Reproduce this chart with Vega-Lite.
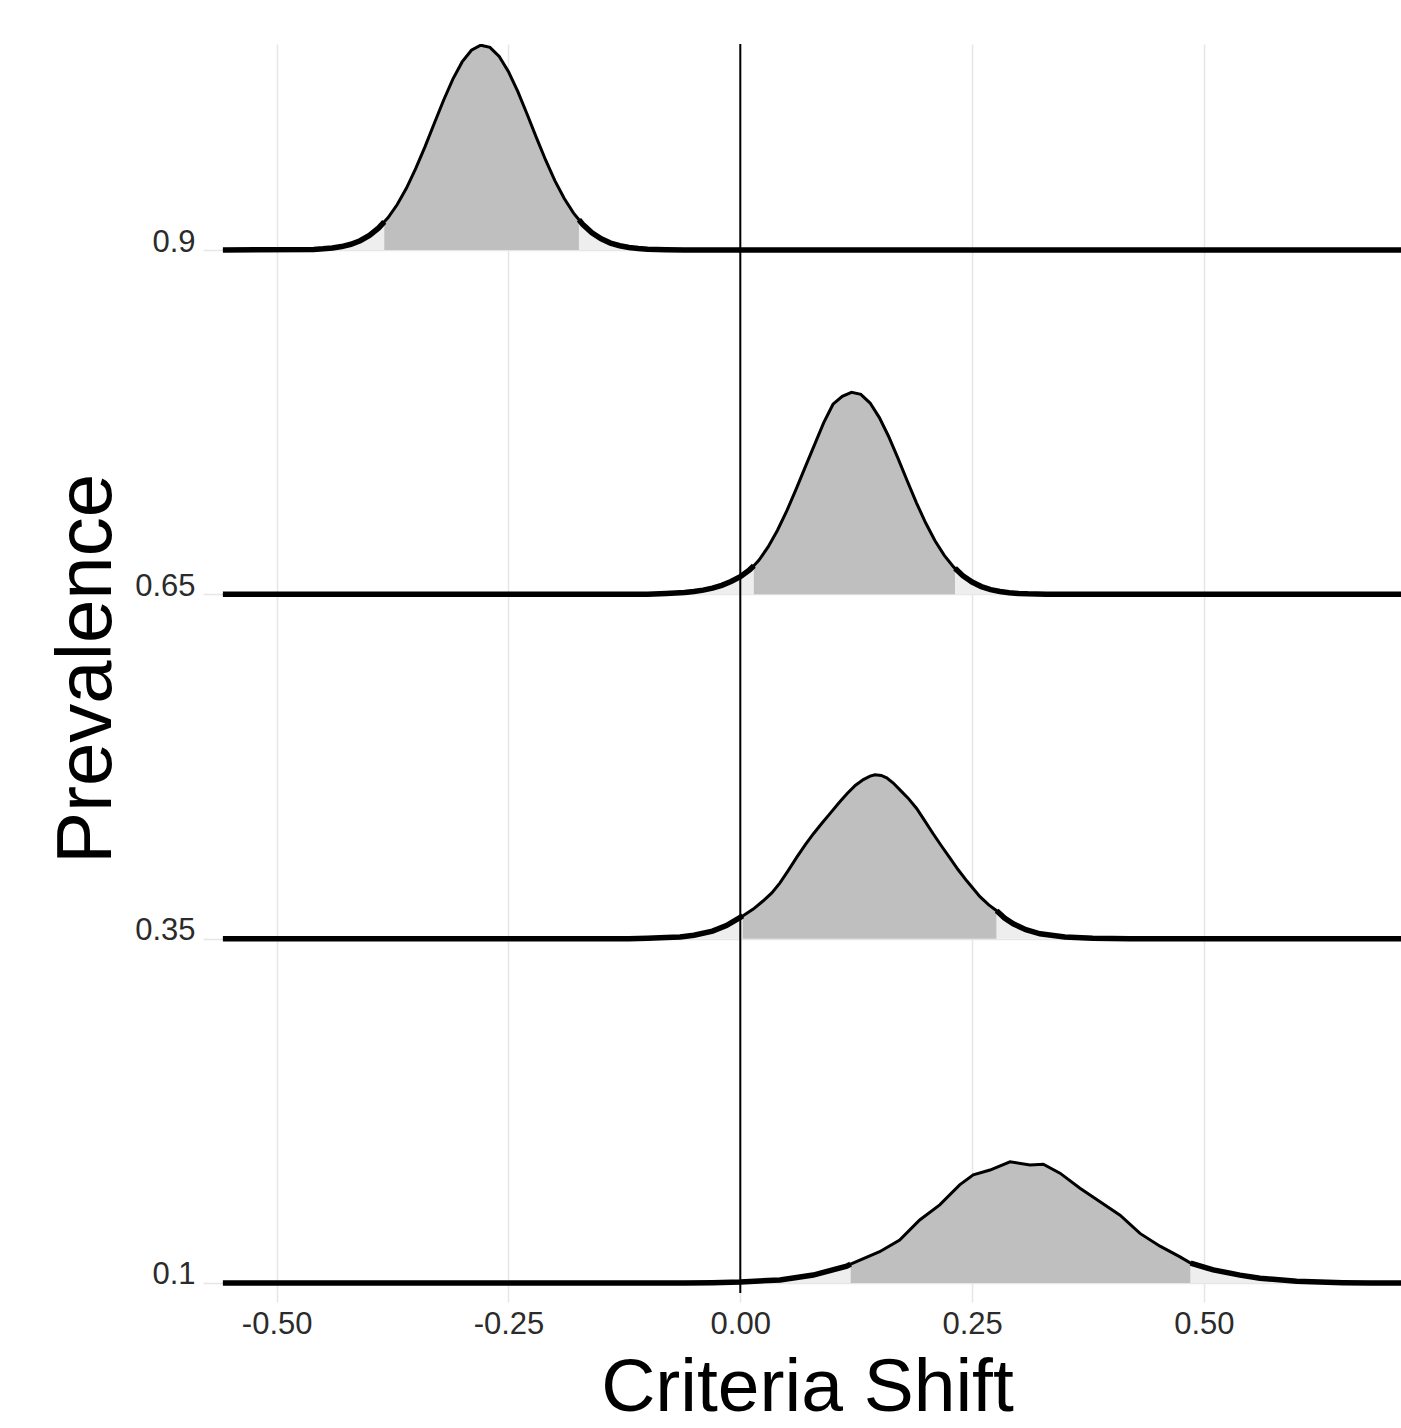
{
  "$schema": "https://vega.github.io/schema/vega-lite/v6.json",
  "width": 1188,
  "height": 1249,
  "autosize": {"type": "none"},
  "padding": {"left": 213, "top": 44, "right": 0, "bottom": 135},
  "background": "white",
  "config": {
    "view": {"stroke": null},
    "font": "Liberation Sans"
  },
  "data": {"values": [
    {"p":"0.9","x":-0.558,"d":0,"s":"lo"},
    {"p":"0.9","x":-0.46,"d":0.0016,"s":"lo"},
    {"p":"0.9","x":-0.45,"d":0.0031,"s":"lo"},
    {"p":"0.9","x":-0.44,"d":0.0056,"s":"lo"},
    {"p":"0.9","x":-0.43,"d":0.0097,"s":"lo"},
    {"p":"0.9","x":-0.42,"d":0.0164,"s":"lo"},
    {"p":"0.9","x":-0.41,"d":0.0267,"s":"lo"},
    {"p":"0.9","x":-0.40,"d":0.0421,"s":"lo"},
    {"p":"0.9","x":-0.39,"d":0.0638,"s":"lo"},
    {"p":"0.9","x":-0.384,"d":0.0816,"s":"lo"},
    {"p":"0.9","x":-0.384,"d":0.0816,"s":"mid"},
    {"p":"0.9","x":-0.38,"d":0.0934,"s":"mid"},
    {"p":"0.9","x":-0.37,"d":0.1318,"s":"mid"},
    {"p":"0.9","x":-0.36,"d":0.1797,"s":"mid"},
    {"p":"0.9","x":-0.35,"d":0.2366,"s":"mid"},
    {"p":"0.9","x":-0.34,"d":0.300,"s":"mid"},
    {"p":"0.9","x":-0.33,"d":0.3677,"s":"mid"},
    {"p":"0.9","x":-0.32,"d":0.4347,"s":"mid"},
    {"p":"0.9","x":-0.31,"d":0.4959,"s":"mid"},
    {"p":"0.9","x":-0.30,"d":0.5459,"s":"mid"},
    {"p":"0.9","x":-0.29,"d":0.580,"s":"mid"},
    {"p":"0.9","x":-0.28,"d":0.5946,"s":"mid"},
    {"p":"0.9","x":-0.27,"d":0.5883,"s":"mid"},
    {"p":"0.9","x":-0.26,"d":0.5617,"s":"mid"},
    {"p":"0.9","x":-0.25,"d":0.5175,"s":"mid"},
    {"p":"0.9","x":-0.24,"d":0.4602,"s":"mid"},
    {"p":"0.9","x":-0.23,"d":0.3948,"s":"mid"},
    {"p":"0.9","x":-0.22,"d":0.327,"s":"mid"},
    {"p":"0.9","x":-0.21,"d":0.2612,"s":"mid"},
    {"p":"0.9","x":-0.20,"d":0.2014,"s":"mid"},
    {"p":"0.9","x":-0.19,"d":0.150,"s":"mid"},
    {"p":"0.9","x":-0.18,"d":0.1077,"s":"mid"},
    {"p":"0.9","x":-0.174,"d":0.0878,"s":"mid"},
    {"p":"0.9","x":-0.174,"d":0.0878,"s":"hi"},
    {"p":"0.9","x":-0.17,"d":0.0746,"s":"hi"},
    {"p":"0.9","x":-0.16,"d":0.0499,"s":"hi"},
    {"p":"0.9","x":-0.15,"d":0.0322,"s":"hi"},
    {"p":"0.9","x":-0.14,"d":0.0200,"s":"hi"},
    {"p":"0.9","x":-0.13,"d":0.0121,"s":"hi"},
    {"p":"0.9","x":-0.12,"d":0.0070,"s":"hi"},
    {"p":"0.9","x":-0.11,"d":0.0039,"s":"hi"},
    {"p":"0.9","x":-0.10,"d":0.0021,"s":"hi"},
    {"p":"0.9","x":-0.09,"d":0.001,"s":"hi"},
    {"p":"0.9","x":-0.08,"d":0.0004,"s":"hi"},
    {"p":"0.9","x":-0.06,"d":0,"s":"hi"},
    {"p":"0.9","x":0.713,"d":0,"s":"hi"},

    {"p":"0.65","x":-0.558,"d":0,"s":"lo"},
    {"p":"0.65","x":-0.10,"d":0,"s":"lo"},
    {"p":"0.65","x":-0.08,"d":0.002,"s":"lo"},
    {"p":"0.65","x":-0.06,"d":0.005,"s":"lo"},
    {"p":"0.65","x":-0.05,"d":0.008,"s":"lo"},
    {"p":"0.65","x":-0.04,"d":0.012,"s":"lo"},
    {"p":"0.65","x":-0.03,"d":0.018,"s":"lo"},
    {"p":"0.65","x":-0.02,"d":0.026,"s":"lo"},
    {"p":"0.65","x":-0.01,"d":0.037,"s":"lo"},
    {"p":"0.65","x":0.00,"d":0.051,"s":"lo"},
    {"p":"0.65","x":0.01,"d":0.071,"s":"lo"},
    {"p":"0.65","x":0.0146,"d":0.083,"s":"lo"},
    {"p":"0.65","x":0.0146,"d":0.083,"s":"mid"},
    {"p":"0.65","x":0.02,"d":0.0986,"s":"mid"},
    {"p":"0.65","x":0.03,"d":0.1375,"s":"mid"},
    {"p":"0.65","x":0.04,"d":0.1853,"s":"mid"},
    {"p":"0.65","x":0.05,"d":0.2413,"s":"mid"},
    {"p":"0.65","x":0.06,"d":0.3037,"s":"mid"},
    {"p":"0.65","x":0.07,"d":0.3692,"s":"mid"},
    {"p":"0.65","x":0.08,"d":0.4338,"s":"mid"},
    {"p":"0.65","x":0.09,"d":0.4985,"s":"mid"},
    {"p":"0.65","x":0.10,"d":0.552,"s":"mid"},
    {"p":"0.65","x":0.11,"d":0.575,"s":"mid"},
    {"p":"0.65","x":0.12,"d":0.5866,"s":"mid"},
    {"p":"0.65","x":0.13,"d":0.5806,"s":"mid"},
    {"p":"0.65","x":0.14,"d":0.5553,"s":"mid"},
    {"p":"0.65","x":0.15,"d":0.5131,"s":"mid"},
    {"p":"0.65","x":0.16,"d":0.4583,"s":"mid"},
    {"p":"0.65","x":0.17,"d":0.3955,"s":"mid"},
    {"p":"0.65","x":0.18,"d":0.3297,"s":"mid"},
    {"p":"0.65","x":0.19,"d":0.2656,"s":"mid"},
    {"p":"0.65","x":0.20,"d":0.2069,"s":"mid"},
    {"p":"0.65","x":0.21,"d":0.1556,"s":"mid"},
    {"p":"0.65","x":0.22,"d":0.1131,"s":"mid"},
    {"p":"0.65","x":0.23,"d":0.0794,"s":"mid"},
    {"p":"0.65","x":0.2316,"d":0.0753,"s":"mid"},
    {"p":"0.65","x":0.2316,"d":0.0753,"s":"hi"},
    {"p":"0.65","x":0.24,"d":0.0540,"s":"hi"},
    {"p":"0.65","x":0.25,"d":0.0354,"s":"hi"},
    {"p":"0.65","x":0.26,"d":0.0224,"s":"hi"},
    {"p":"0.65","x":0.27,"d":0.0137,"s":"hi"},
    {"p":"0.65","x":0.28,"d":0.0081,"s":"hi"},
    {"p":"0.65","x":0.29,"d":0.0046,"s":"hi"},
    {"p":"0.65","x":0.30,"d":0.0025,"s":"hi"},
    {"p":"0.65","x":0.31,"d":0.0013,"s":"hi"},
    {"p":"0.65","x":0.33,"d":0.0003,"s":"hi"},
    {"p":"0.65","x":0.35,"d":0,"s":"hi"},
    {"p":"0.65","x":0.713,"d":0,"s":"hi"},

    {"p":"0.35","x":-0.558,"d":0,"s":"lo"},
    {"p":"0.35","x":-0.12,"d":0,"s":"lo"},
    {"p":"0.35","x":-0.10,"d":0.001,"s":"lo"},
    {"p":"0.35","x":-0.08,"d":0.003,"s":"lo"},
    {"p":"0.35","x":-0.065,"d":0.005,"s":"lo"},
    {"p":"0.35","x":-0.05,"d":0.010,"s":"lo"},
    {"p":"0.35","x":-0.03,"d":0.022,"s":"lo"},
    {"p":"0.35","x":-0.015,"d":0.038,"s":"lo"},
    {"p":"0.35","x":0.0,"d":0.062,"s":"lo"},
    {"p":"0.35","x":0.0026,"d":0.066,"s":"lo"},
    {"p":"0.35","x":0.0026,"d":0.066,"s":"mid"},
    {"p":"0.35","x":0.014,"d":0.086,"s":"mid"},
    {"p":"0.35","x":0.0248,"d":0.110,"s":"mid"},
    {"p":"0.35","x":0.034,"d":0.133,"s":"mid"},
    {"p":"0.35","x":0.0428,"d":0.162,"s":"mid"},
    {"p":"0.35","x":0.052,"d":0.199,"s":"mid"},
    {"p":"0.35","x":0.0608,"d":0.236,"s":"mid"},
    {"p":"0.35","x":0.0700,"d":0.272,"s":"mid"},
    {"p":"0.35","x":0.0787,"d":0.304,"s":"mid"},
    {"p":"0.35","x":0.0880,"d":0.335,"s":"mid"},
    {"p":"0.35","x":0.0967,"d":0.363,"s":"mid"},
    {"p":"0.35","x":0.1060,"d":0.393,"s":"mid"},
    {"p":"0.35","x":0.1148,"d":0.420,"s":"mid"},
    {"p":"0.35","x":0.1240,"d":0.445,"s":"mid"},
    {"p":"0.35","x":0.1327,"d":0.462,"s":"mid"},
    {"p":"0.35","x":0.1400,"d":0.472,"s":"mid"},
    {"p":"0.35","x":0.1453,"d":0.476,"s":"mid"},
    {"p":"0.35","x":0.1520,"d":0.474,"s":"mid"},
    {"p":"0.35","x":0.1579,"d":0.467,"s":"mid"},
    {"p":"0.35","x":0.1650,"d":0.452,"s":"mid"},
    {"p":"0.35","x":0.1722,"d":0.432,"s":"mid"},
    {"p":"0.35","x":0.1810,"d":0.408,"s":"mid"},
    {"p":"0.35","x":0.1902,"d":0.378,"s":"mid"},
    {"p":"0.35","x":0.1990,"d":0.342,"s":"mid"},
    {"p":"0.35","x":0.2082,"d":0.304,"s":"mid"},
    {"p":"0.35","x":0.2170,"d":0.269,"s":"mid"},
    {"p":"0.35","x":0.2262,"d":0.234,"s":"mid"},
    {"p":"0.35","x":0.2350,"d":0.200,"s":"mid"},
    {"p":"0.35","x":0.2442,"d":0.168,"s":"mid"},
    {"p":"0.35","x":0.2585,"d":0.122,"s":"mid"},
    {"p":"0.35","x":0.2680,"d":0.098,"s":"mid"},
    {"p":"0.35","x":0.2765,"d":0.081,"s":"mid"},
    {"p":"0.35","x":0.2765,"d":0.081,"s":"hi"},
    {"p":"0.35","x":0.2850,"d":0.060,"s":"hi"},
    {"p":"0.35","x":0.2944,"d":0.043,"s":"hi"},
    {"p":"0.35","x":0.3080,"d":0.026,"s":"hi"},
    {"p":"0.35","x":0.3233,"d":0.014,"s":"hi"},
    {"p":"0.35","x":0.35,"d":0.005,"s":"hi"},
    {"p":"0.35","x":0.38,"d":0.0015,"s":"hi"},
    {"p":"0.35","x":0.42,"d":0,"s":"hi"},
    {"p":"0.35","x":0.713,"d":0,"s":"hi"},

    {"p":"0.1","x":-0.558,"d":0,"s":"lo"},
    {"p":"0.1","x":-0.06,"d":0,"s":"lo"},
    {"p":"0.1","x":-0.03,"d":0.001,"s":"lo"},
    {"p":"0.1","x":0.0,"d":0.003,"s":"lo"},
    {"p":"0.1","x":0.0428,"d":0.009,"s":"lo"},
    {"p":"0.1","x":0.0787,"d":0.023,"s":"lo"},
    {"p":"0.1","x":0.1148,"d":0.049,"s":"lo"},
    {"p":"0.1","x":0.119,"d":0.055,"s":"lo"},
    {"p":"0.1","x":0.119,"d":0.055,"s":"mid"},
    {"p":"0.1","x":0.1503,"d":0.091,"s":"mid"},
    {"p":"0.1","x":0.1719,"d":0.125,"s":"mid"},
    {"p":"0.1","x":0.1935,"d":0.183,"s":"mid"},
    {"p":"0.1","x":0.2151,"d":0.227,"s":"mid"},
    {"p":"0.1","x":0.2366,"d":0.285,"s":"mid"},
    {"p":"0.1","x":0.2513,"d":0.314,"s":"mid"},
    {"p":"0.1","x":0.2693,"d":0.328,"s":"mid"},
    {"p":"0.1","x":0.2909,"d":0.352,"s":"mid"},
    {"p":"0.1","x":0.3124,"d":0.343,"s":"mid"},
    {"p":"0.1","x":0.3268,"d":0.345,"s":"mid"},
    {"p":"0.1","x":0.3448,"d":0.319,"s":"mid"},
    {"p":"0.1","x":0.3664,"d":0.275,"s":"mid"},
    {"p":"0.1","x":0.3880,"d":0.236,"s":"mid"},
    {"p":"0.1","x":0.4096,"d":0.197,"s":"mid"},
    {"p":"0.1","x":0.4311,"d":0.144,"s":"mid"},
    {"p":"0.1","x":0.4527,"d":0.107,"s":"mid"},
    {"p":"0.1","x":0.4743,"d":0.076,"s":"mid"},
    {"p":"0.1","x":0.4857,"d":0.058,"s":"mid"},
    {"p":"0.1","x":0.4857,"d":0.058,"s":"hi"},
    {"p":"0.1","x":0.5101,"d":0.038,"s":"hi"},
    {"p":"0.1","x":0.5389,"d":0.023,"s":"hi"},
    {"p":"0.1","x":0.5605,"d":0.014,"s":"hi"},
    {"p":"0.1","x":0.60,"d":0.005,"s":"hi"},
    {"p":"0.1","x":0.65,"d":0.001,"s":"hi"},
    {"p":"0.1","x":0.68,"d":0,"s":"hi"},
    {"p":"0.1","x":0.713,"d":0,"s":"hi"}
  ]},
  "layer": [
    {
      "data": {"values": [{"p":"0.1"},{"p":"0.35"},{"p":"0.65"},{"p":"0.9"}]},
      "mark": {"type": "point", "opacity": 0},
      "encoding": {
        "y": {
          "field": "p", "type": "ordinal",
          "sort": ["0.9","0.65","0.35","0.1"],
          "scale": {"type": "point", "domain": ["0.9","0.65","0.35","0.1"], "padding": 0.3137, "align": 0.9537},
          "axis": {
            "orient": "left", "grid": true, "gridColor": "#e6e6e6", "gridWidth": 1.5,
            "domain": false, "ticks": true, "tickColor": "#e6e6e6", "tickWidth": 1.5, "tickSize": 10,
            "labelFontSize": 31, "labelColor": "#2b2b2b", "labelPadding": 8,
            "labelBaseline": "alphabetic", "labelOffset": 1,
            "title": "Prevalence", "titleFontSize": 78, "titleFontWeight": "normal",
            "titleColor": "black", "titlePadding": 8
          }
        }
      }
    },
    {
      "transform": [{"filter": "datum.p == '0.9'"}],
      "encoding": {
        "x": {"field": "x", "type": "quantitative",
          "scale": {"domain": [-0.5687, 0.7126], "nice": false, "zero": false},
          "axis": {"values": [-0.5,-0.25,0,0.25,0.5],
            "labelExpr": "replace(format(datum.value,'.2f'),'\u2212','-')",
            "grid": true, "gridColor": "#e6e6e6", "gridWidth": 1.5, "domain": false,
            "tickColor": "#e6e6e6", "tickWidth": 1.5, "tickSize": 9,
            "labelFontSize": 31, "labelColor": "#2b2b2b", "labelPadding": 7,
            "title": "Criteria Shift", "titleFontSize": 75, "titleFontWeight": "normal",
            "titleColor": "black", "titlePadding": 12}},
        "y": {"field": "d", "type": "quantitative", "stack": null,
          "scale": {"domain": [-3.029, 0.598], "nice": false, "zero": false}, "axis": null}
      },
      "layer": [
        {"mark": {"type": "area", "clip": true},
         "encoding": {"color": {"field": "s", "type": "nominal", "scale": {"domain": ["lo","mid","hi"], "range": ["#eeeeee","#bfbfbf","#eeeeee"]}, "legend": null}}},
        {"mark": {"type": "line", "color": "black", "strokeWidth": 3, "clip": true}},
        {"transform": [{"filter": "datum.s != 'mid'"}],
         "mark": {"type": "line", "color": "black", "strokeWidth": 5.5, "clip": true},
         "encoding": {"detail": {"field": "s", "type": "nominal"}}}
      ]
    },
    {
      "transform": [{"filter": "datum.p == '0.65'"}],
      "encoding": {
        "x": {"field": "x", "type": "quantitative",
          "scale": {"domain": [-0.5687, 0.7126], "nice": false, "zero": false}},
        "y": {"field": "d", "type": "quantitative", "stack": null,
          "scale": {"domain": [-2.029, 1.598], "nice": false, "zero": false}, "axis": null}
      },
      "layer": [
        {"mark": {"type": "area", "clip": true},
         "encoding": {"color": {"field": "s", "type": "nominal", "scale": {"domain": ["lo","mid","hi"], "range": ["#eeeeee","#bfbfbf","#eeeeee"]}, "legend": null}}},
        {"mark": {"type": "line", "color": "black", "strokeWidth": 3, "clip": true}},
        {"transform": [{"filter": "datum.s != 'mid'"}],
         "mark": {"type": "line", "color": "black", "strokeWidth": 5.5, "clip": true},
         "encoding": {"detail": {"field": "s", "type": "nominal"}}}
      ]
    },
    {
      "transform": [{"filter": "datum.p == '0.35'"}],
      "encoding": {
        "x": {"field": "x", "type": "quantitative",
          "scale": {"domain": [-0.5687, 0.7126], "nice": false, "zero": false}},
        "y": {"field": "d", "type": "quantitative", "stack": null,
          "scale": {"domain": [-1.029, 2.598], "nice": false, "zero": false}, "axis": null}
      },
      "layer": [
        {"mark": {"type": "area", "clip": true},
         "encoding": {"color": {"field": "s", "type": "nominal", "scale": {"domain": ["lo","mid","hi"], "range": ["#eeeeee","#bfbfbf","#eeeeee"]}, "legend": null}}},
        {"mark": {"type": "line", "color": "black", "strokeWidth": 3, "clip": true}},
        {"transform": [{"filter": "datum.s != 'mid'"}],
         "mark": {"type": "line", "color": "black", "strokeWidth": 5.5, "clip": true},
         "encoding": {"detail": {"field": "s", "type": "nominal"}}}
      ]
    },
    {
      "transform": [{"filter": "datum.p == '0.1'"}],
      "encoding": {
        "x": {"field": "x", "type": "quantitative",
          "scale": {"domain": [-0.5687, 0.7126], "nice": false, "zero": false}},
        "y": {"field": "d", "type": "quantitative", "stack": null,
          "scale": {"domain": [-0.029, 3.598], "nice": false, "zero": false}, "axis": null}
      },
      "layer": [
        {"mark": {"type": "area", "clip": true},
         "encoding": {"color": {"field": "s", "type": "nominal", "scale": {"domain": ["lo","mid","hi"], "range": ["#eeeeee","#bfbfbf","#eeeeee"]}, "legend": null}}},
        {"mark": {"type": "line", "color": "black", "strokeWidth": 3, "clip": true}},
        {"transform": [{"filter": "datum.s != 'mid'"}],
         "mark": {"type": "line", "color": "black", "strokeWidth": 5.5, "clip": true},
         "encoding": {"detail": {"field": "s", "type": "nominal"}}}
      ]
    },
    {
      "data": {"values": [{}]},
      "mark": {"type": "rule", "color": "black", "strokeWidth": 2},
      "encoding": {"x": {"datum": 0, "type": "quantitative"}}
    }
  ],
  "resolve": {"scale": {"y": "independent"}}
}
